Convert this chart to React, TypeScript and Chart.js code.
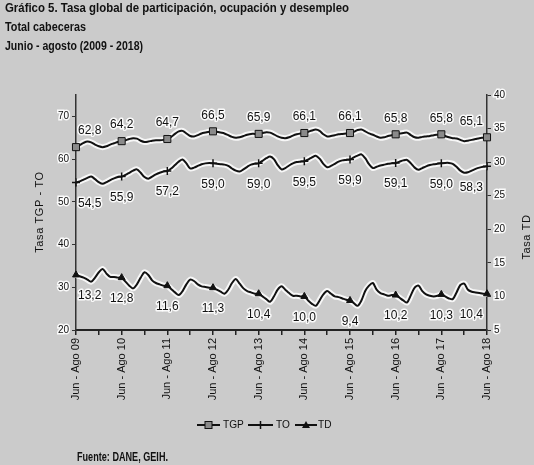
import React, { useEffect, useRef } from 'react';
import { Chart, registerables } from 'chart.js';

Chart.register(...registerables);

// ---------- DATA ----------
const yearTags = ['09', '10', '11', '12', '13', '14', '15', '16', '17', '18'];
const tickLabels = yearTags.map((y) => `Jun - Ago ${y}`);
const periods = ['Jun-Ago', 'Jul-Sep', 'Ago-Oct', 'Sep-Nov', 'Oct-Dic', 'Nov-Ene', 'Dic-Feb', 'Ene-Mar', 'Feb-Abr', 'Mar-May', 'Abr-Jun', 'May-Jul'];

// Tasa global de participación (monthly rolling quarters, Jun-Ago 09 .. Jun-Ago 18)
const tgp = [
  62.8, 63.3, 63.8, 64.1, 63.9, 63.4, 63.0, 62.8, 63.0, 63.4, 63.7, 64.0,
  64.2, 64.4, 64.7, 64.9, 64.8, 64.3, 64.0, 64.1, 64.3, 64.4, 64.4, 64.5,
  64.7, 65.2, 65.9, 66.5, 66.6, 66.0, 65.4, 65.3, 65.6, 66.0, 66.2, 66.4,
  66.5, 66.4, 66.2, 66.0, 65.6, 65.2, 65.0, 65.1, 65.4, 65.7, 65.9, 65.9,
  65.9, 66.1, 66.3, 66.2, 65.8, 65.3, 65.0, 64.9, 65.1, 65.5, 65.8, 66.0,
  66.1, 66.4, 66.7, 66.9, 66.6, 65.8, 65.3, 65.4, 65.6, 65.8, 65.9, 66.0,
  66.1, 66.4, 66.8, 66.9, 66.5, 66.0, 65.7, 65.3, 65.0, 65.1, 65.4, 65.6,
  65.8, 66.0, 66.1, 66.2, 65.6, 65.1, 65.0, 65.2, 65.3, 65.4, 65.6, 65.7,
  65.8, 65.4, 65.1, 64.9, 64.8, 64.5, 64.2, 64.3, 64.5, 64.7, 64.9, 65.0,
  65.1,
];

// Tasa de ocupación
const to = [
  54.5, 54.8, 55.2, 55.6, 55.9, 55.3, 54.6, 54.2, 54.6, 55.1, 55.5, 55.8,
  55.9, 56.3, 56.8, 57.3, 57.6, 56.8, 55.8, 55.4, 55.9, 56.4, 56.8, 57.1,
  57.2, 57.8, 58.6, 59.4, 59.9, 59.0, 57.8, 58.0, 58.4, 58.8, 59.0, 59.1,
  59.0, 58.9, 58.8, 58.7, 58.4, 57.8, 57.3, 57.1, 57.6, 58.2, 58.7, 58.9,
  59.0, 59.6, 60.2, 60.6, 60.0, 58.6, 57.6, 57.9, 58.5, 59.0, 59.3, 59.4,
  59.5, 59.9, 60.4, 60.8, 60.1, 58.9, 58.1, 58.4, 58.9, 59.4, 59.7, 59.8,
  59.9, 60.4, 60.8, 61.1, 60.2, 58.8, 57.9, 58.2, 58.5, 58.7, 58.9, 59.0,
  59.1, 59.4, 59.7, 59.8, 59.0, 58.0, 57.5, 57.9, 58.3, 58.6, 58.8, 58.9,
  59.0, 59.1, 59.1, 58.9, 58.2, 57.3, 56.8, 56.9, 57.3, 57.7, 58.0, 58.2,
  58.3,
];

// Tasa de desempleo (eje derecho)
const td = [
  13.2, 13.0, 12.8, 12.5, 12.2, 12.8, 13.6, 14.1, 13.4, 12.9, 12.9, 12.8,
  12.8, 12.2, 11.6, 11.2, 11.8, 12.8, 13.6, 13.2, 12.4, 12.0, 11.8, 11.6,
  11.6, 11.1, 10.6, 10.2, 10.8, 11.8, 12.5, 12.3, 11.8, 11.5, 11.4, 11.3,
  11.3, 11.0, 10.7, 10.4, 11.0, 12.0, 12.6, 11.9, 11.2, 10.8, 10.6, 10.4,
  10.4, 10.0, 9.6, 9.2, 10.0, 11.0, 11.5, 11.0, 10.5, 10.1, 10.1, 10.0,
  10.0, 9.4, 8.9, 8.6, 9.4, 10.3, 10.8, 10.4, 10.0, 9.9, 9.7, 9.5,
  9.4, 9.0, 8.6, 9.4, 10.8, 11.6, 12.0, 11.0, 10.5, 10.3, 10.1, 10.2,
  10.2, 9.8, 9.4, 9.1, 10.2, 11.3, 11.6, 10.8, 10.3, 10.1, 10.0, 10.1,
  10.3, 10.0, 9.7, 9.6, 10.6, 11.7, 11.9, 11.0, 10.7, 10.6, 10.5, 10.4,
  10.4,
];

const categories: string[] = [];
for (let y = 0; y < yearTags.length - 1; y++) {
  for (let m = 0; m < 12; m++) categories.push(`${periods[m]} ${yearTags[y]}`);
}
categories.push(`${periods[0]} ${yearTags[yearTags.length - 1]}`);

const titleLines = [
  'Gráfico 5. Tasa global de participación, ocupación y desempleo',
  'Total cabeceras',
  'Junio - agosto (2009 - 2018)',
];
const leftTitle = 'Tasa TGP - TO';
const rightTitle = 'Tasa TD';
const sourceText = 'Fuente: DANE, GEIH.';
const seriesNames = ['TGP', 'TO', 'TD'];

// ---------- STYLE ----------
const FONT = '"Liberation Sans", Arial, sans-serif';
const BG = '#cbcbcb';
const INK = '#111111';

function drawText(
  ctx: CanvasRenderingContext2D,
  s: string,
  x: number,
  y: number,
  font: string,
  align: CanvasTextAlign,
  sx = 1,
  halo = false,
  baseline: CanvasTextBaseline = 'alphabetic'
) {
  ctx.save();
  ctx.font = font;
  ctx.translate(x, y);
  ctx.scale(sx, 1);
  ctx.textAlign = align;
  ctx.textBaseline = baseline;
  if (halo) {
    ctx.strokeStyle = 'rgba(255,255,255,0.9)';
    ctx.lineWidth = 3;
    ctx.lineJoin = 'round';
    ctx.strokeText(s, 0, 0);
  }
  ctx.fillStyle = INK;
  ctx.fillText(s, 0, 0);
  ctx.restore();
}

function fitScale(ctx: CanvasRenderingContext2D, s: string, font: string, target: number) {
  ctx.save();
  ctx.font = font;
  const w = ctx.measureText(s).width;
  ctx.restore();
  return w > 0 ? target / w : 1;
}

function drawMarker(ctx: CanvasRenderingContext2D, kind: string, x: number, y: number) {
  ctx.save();
  ctx.strokeStyle = INK;
  ctx.fillStyle = INK;
  ctx.lineWidth = 1;
  if (kind === 'rect') {
    ctx.fillStyle = '#8a8a8a';
    ctx.fillRect(x - 3.5, y - 3.5, 7, 7);
    ctx.strokeRect(x - 3.5, y - 3.5, 7, 7);
  } else if (kind === 'cross') {
    ctx.lineWidth = 1.5;
    ctx.beginPath();
    ctx.moveTo(x, y - 4);
    ctx.lineTo(x, y + 4);
    ctx.moveTo(x - 4, y);
    ctx.lineTo(x + 4, y);
    ctx.stroke();
  } else {
    ctx.beginPath();
    ctx.moveTo(x, y - 4);
    ctx.lineTo(x + 4, y + 3);
    ctx.lineTo(x - 4, y + 3);
    ctx.closePath();
    ctx.fill();
  }
  ctx.restore();
}

const fmt = (v: number) => v.toFixed(1).replace('.', ',');

function drawRotated(ctx: CanvasRenderingContext2D, s: string, x: number, y: number) {
  ctx.save();
  ctx.translate(x, y);
  ctx.rotate(-Math.PI / 2);
  ctx.font = `11px ${FONT}`;
  (ctx as any).letterSpacing = '0.6px';
  ctx.textAlign = 'center';
  ctx.textBaseline = 'middle';
  ctx.fillStyle = INK;
  ctx.fillText(s, 0, 0);
  ctx.restore();
}

const decorPlugin = {
  id: 'decor',
  beforeDraw(chart: any) {
    const ctx = chart.ctx as CanvasRenderingContext2D;
    ctx.save();
    ctx.fillStyle = BG;
    ctx.fillRect(0, 0, chart.width, chart.height);
    ctx.restore();
  },
  afterDatasetsDraw(chart: any) {
    const ctx = chart.ctx as CanvasRenderingContext2D;
    const last = categories.length - 1;
    const offsets = [-16, 21, 21];
    [0, 1, 2].forEach((di) => {
      const meta = chart.getDatasetMeta(di);
      const data = chart.data.datasets[di].data as number[];
      for (let i = 0; i <= last; i += 12) {
        const p = meta.data[i];
        if (!p) continue;
        let align: CanvasTextAlign = 'center';
        let x = p.x;
        if (i === 0) { align = 'left'; x = p.x + 2; }
        if (i === last) { align = 'right'; x = p.x - 4; }
        drawText(ctx, fmt(data[i]), x, p.y + offsets[di], `12px ${FONT}`, align, 1, true, 'middle');
      }
    });
  },
  afterDraw(chart: any) {
    const ctx = chart.ctx as CanvasRenderingContext2D;
    // Titles
    const tFont = `bold 13px ${FONT}`;
    const targets = [344, 81, 138];
    const baselines = [12, 31, 50];
    titleLines.forEach((t, i) => {
      const sx = fitScale(ctx, t, tFont, targets[i]);
      drawText(ctx, t, 5, baselines[i], tFont, 'left', sx);
    });

    // Axis titles (rotated, reading upward)
    drawRotated(ctx, leftTitle, 40, 212);
    drawRotated(ctx, rightTitle, 527, 237);

    // Legend
    const ly = 425;
    const items = [
      { x1: 197, x2: 220, tx: 223, kind: 'rect' },
      { x1: 248, x2: 273, tx: 276, kind: 'cross' },
      { x1: 295, x2: 317, tx: 318, kind: 'tri' },
    ];
    items.forEach((it, i) => {
      ctx.save();
      ctx.strokeStyle = INK;
      ctx.lineWidth = 2;
      ctx.beginPath();
      ctx.moveTo(it.x1, ly);
      ctx.lineTo(it.x2, ly);
      ctx.stroke();
      ctx.restore();
      drawMarker(ctx, it.kind, (it.x1 + it.x2) / 2, ly);
      drawText(ctx, seriesNames[i], it.tx, ly, `11px ${FONT}`, 'left', 0.92, false, 'middle');
    });

    // Source
    const sFont = `bold 12px ${FONT}`;
    const ssx = fitScale(ctx, sourceText, sFont, 91);
    drawText(ctx, sourceText, 77, 461, sFont, 'left', ssx);
  },
};

export default function App() {
  const ref = useRef<HTMLCanvasElement | null>(null);

  useEffect(() => {
    if (!ref.current) return;
    const isYear = (i: number) => i % 12 === 0;
    const lineCommon = {
      borderColor: INK,
      borderWidth: 2,
      tension: 0.3,
      fill: false,
      pointBorderColor: INK,
      pointBorderWidth: 1,
    };
    const halo = (data: number[], axis: string) => ({
      data,
      yAxisID: axis,
      borderColor: 'rgba(255,255,255,0.85)',
      borderWidth: 6,
      tension: 0.3,
      pointRadius: 0,
      fill: false,
      order: 1,
    });
    const chart = new Chart(ref.current, {
      type: 'line',
      data: {
        labels: categories,
        datasets: [
          {
            ...lineCommon,
            label: seriesNames[0],
            data: tgp,
            yAxisID: 'y',
            pointStyle: 'rect',
            pointRadius: (c: any) => (isYear(c.dataIndex) ? 5 : 0),
            pointBackgroundColor: '#8a8a8a',
            order: 0,
          },
          {
            ...lineCommon,
            label: seriesNames[1],
            data: to,
            yAxisID: 'y',
            pointStyle: 'cross',
            pointBorderWidth: 1.5,
            pointRadius: (c: any) => (isYear(c.dataIndex) ? 4 : 0),
            pointBackgroundColor: INK,
            order: 0,
          },
          {
            ...lineCommon,
            label: seriesNames[2],
            data: td,
            yAxisID: 'y2',
            pointStyle: 'triangle',
            pointRadius: (c: any) => (isYear(c.dataIndex) ? 4 : 0),
            pointBackgroundColor: INK,
            order: 0,
          },
          halo(tgp, 'y') as any,
          halo(to, 'y') as any,
          halo(td, 'y2') as any,
        ],
      },
      options: {
        responsive: false,
        animation: false,
        devicePixelRatio: 1,
        layout: { padding: { top: 95, left: 0, right: 0, bottom: 0 }, autoPadding: false },
        plugins: {
          legend: { display: false },
          title: { display: false },
          tooltip: { enabled: false },
        },
        events: [],
        scales: {
          x: {
            type: 'category',
            grid: {
              drawOnChartArea: false,
              drawTicks: true,
              tickLength: 5,
              lineWidth: 1.5,
              color: (c: any) => (c.index % 6 === 0 ? '#222' : 'rgba(0,0,0,0)'),
            },
            border: { color: '#222', width: 2 },
            ticks: {
              autoSkip: false,
              minRotation: 90,
              maxRotation: 90,
              padding: 3,
              color: INK,
              font: { size: 11, family: FONT },
              callback: (_v: any, i: number) => (i % 12 === 0 ? tickLabels[i / 12] : ''),
            },
            afterFit: (s: any) => { s.height = 135; },
          },
          y: {
            type: 'linear',
            position: 'left',
            min: 20,
            max: 75,
            grid: { drawOnChartArea: false, drawTicks: true, tickLength: 4, color: '#333' },
            border: { color: '#333', width: 1.5 },
            ticks: {
              stepSize: 10,
              padding: 3,
              color: INK,
              font: { size: 10, family: FONT },
              textStrokeColor: 'rgba(255,255,255,0.9)',
              textStrokeWidth: 3,
            },
            afterBuildTicks: (s: any) => { s.ticks = s.ticks.filter((t: any) => t.value % 10 === 0); },
            afterFit: (s: any) => { s.width = 76; },
          },
          y2: {
            type: 'linear',
            position: 'right',
            min: 5,
            max: 40,
            grid: { drawOnChartArea: false, drawTicks: true, tickLength: 4, color: '#333' },
            border: { color: '#333', width: 1.5 },
            ticks: {
              stepSize: 5,
              padding: 3,
              color: INK,
              font: { size: 10, family: FONT },
              textStrokeColor: 'rgba(255,255,255,0.9)',
              textStrokeWidth: 3,
            },
            afterFit: (s: any) => { s.width = 47; },
          },
        },
      } as any,
      plugins: [decorPlugin],
    });
    return () => chart.destroy();
  }, []);

  return (
    <div style={{ position: 'fixed', left: 0, top: 0, width: 534, height: 465, background: BG }}>
      <canvas ref={ref} width={534} height={465} style={{ display: 'block', width: 534, height: 465 }} />
    </div>
  );
}
